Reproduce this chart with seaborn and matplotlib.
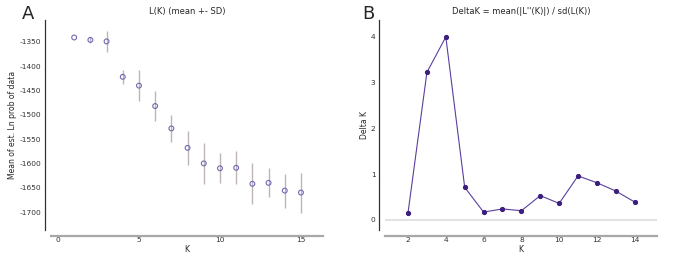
import numpy as np
import pandas as pd
import matplotlib
matplotlib.use("Agg")
import matplotlib.pyplot as plt
import seaborn as sns

# L(K) mean and SD per K
k_all = [1, 2, 3, 4, 5, 6, 7, 8, 9, 10, 11, 12, 13, 14, 15]
lk_mean = [-1341, -1346, -1349, -1422, -1440, -1482, -1528, -1568, -1600, -1610, -1609, -1642, -1640, -1656, -1660]
lk_sd = [0, 6, 21, 14, 32, 31, 27, 35, 43, 31, 34, 42, 30, 35, 41]

# DeltaK per K
k_delta = [2, 3, 4, 5, 6, 7, 8, 9, 10, 11, 12, 13, 14]
delta_k = [0.16, 3.22, 3.99, 0.71, 0.17, 0.24, 0.20, 0.53, 0.36, 0.96, 0.81, 0.63, 0.39]

lk = pd.DataFrame({"K": k_all, "mean": lk_mean, "sd": lk_sd})
dk = pd.DataFrame({"K": k_delta, "DeltaK": delta_k})

sns.set_style("white")
plt.rcParams["font.family"] = ["DejaVu Sans"]
plt.rcParams["axes.unicode_minus"] = False

fig = plt.figure(figsize=(6.85, 2.65), dpi=100)
ax1 = fig.add_axes([51 / 685, 35 / 265, 272 / 685, 210 / 265])
ax2 = fig.add_axes([385 / 685, 35 / 265, 272 / 685, 210 / 265])


def style_axes(ax):
    ax.spines["top"].set_visible(False)
    ax.spines["right"].set_visible(False)
    ax.spines["left"].set_position(("outward", 4.3))
    ax.spines["bottom"].set_position(("outward", 4.3))
    ax.spines["left"].set_color("#333333")
    ax.spines["left"].set_linewidth(0.9)
    ax.spines["bottom"].set_color("#a8a8a8")
    ax.spines["bottom"].set_linewidth(1.6)
    ax.tick_params(axis="both", labelsize=5.4, width=0.6,
                   colors="#333333", pad=1)
    ax.tick_params(axis="x", direction="in", length=2)
    ax.tick_params(axis="y", direction="out", length=1.5)


# Panel A
ax1.errorbar(lk["K"], lk["mean"], yerr=lk["sd"], fmt="none",
             ecolor="#bdb5b5", elinewidth=1.0, capsize=0, zorder=1)
sns.scatterplot(data=lk, x="K", y="mean", ax=ax1, marker="o", s=12,
                facecolor="none", edgecolor="#7468b4", linewidth=0.8, zorder=2)
ax1.set_xlim(-0.43, 16.36)
ax1.set_ylim(-1737, -1305)
ax1.set_xticks([0, 5, 10, 15])
ax1.set_yticks([-1350, -1400, -1450, -1500, -1550, -1600, -1650, -1700])
ax1.set_xlabel("K", fontsize=5.5, labelpad=1.5)
ax1.set_ylabel("Mean of est. Ln prob of data", fontsize=5.5)
ax1.yaxis.set_label_coords(-0.124, 0.5)
ax1.set_title("L(K) (mean +- SD)", fontsize=6, pad=4)
style_axes(ax1)

# Panel B
ax2.axhline(0, color="#e2e2e2", linewidth=1.4, zorder=0)
sns.lineplot(data=dk, x="K", y="DeltaK", ax=ax2, color="#5a3f9e",
             linewidth=0.8, marker="o", markersize=3.0,
             markerfacecolor="#3d1f7d", markeredgecolor="#3d1f7d")
ax2.set_xlim(0.78, 15.18)
ax2.set_ylim(-0.22, 4.36)
ax2.set_xticks([2, 4, 6, 8, 10, 12, 14])
ax2.set_yticks([0, 1, 2, 3, 4])
ax2.set_xlabel("K", fontsize=5.5, labelpad=1.5)
ax2.set_ylabel("Delta K", fontsize=5.5)
ax2.yaxis.set_label_coords(-0.058, 0.5)
ax2.set_title("DeltaK = mean(|L''(K)|) / sd(L(K))", fontsize=6, pad=4)
style_axes(ax2)

fig.text(28 / 685, 1 - 14 / 265, "A", fontsize=13, ha="center", va="center")
fig.text(368 / 685, 1 - 14 / 265, "B", fontsize=13, ha="center", va="center")

fig.savefig("out.png", dpi=100)
